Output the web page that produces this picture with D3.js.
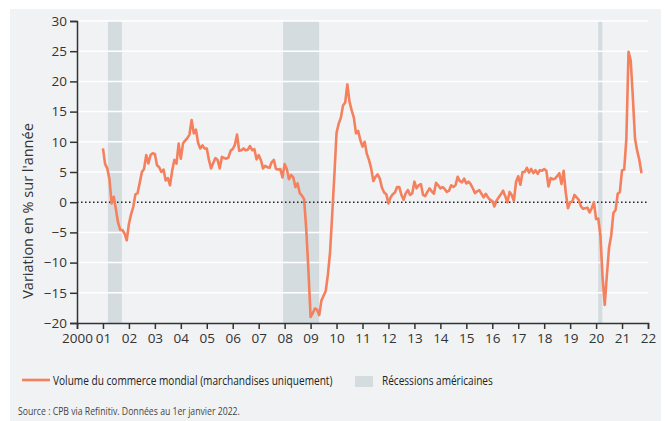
<!DOCTYPE html>
<html>
<head>
<meta charset="utf-8">
<script src="https://cdn.jsdelivr.net/npm/d3@7"></script>
<style>
  body { margin: 0; background: #fff; }
  svg { display: block; font-family: "Open Sans", sans-serif; }
</style>
</head>
<body>
<svg id="chart"></svg>
<script>
// Volume du commerce mondial, variation sur l'annee, mensuel depuis janv. 2001
const firstYear = 2001;
const volume = [
  8.9, 6.3, 5.6, 3.8, -0.2, 0.9, -1.2, -3.4, -4.6, -4.6, -5.2, -6.3,
  -3.6, -2.0, -0.8, 1.3, 1.5, 3.2, 5.0, 5.5, 7.8, 6.4, 7.8, 8.1,
  8.0, 6.1, 5.8, 5.0, 5.4, 3.6, 4.0, 2.8, 5.2, 7.0, 6.4, 9.7,
  7.2, 9.7, 10.2, 10.6, 11.2, 13.6, 11.4, 12.0, 9.8, 8.9, 9.4, 8.9,
  8.9, 7.0, 5.6, 6.5, 7.3, 7.0, 5.6, 7.5, 7.3, 7.2, 7.4, 8.5,
  8.8, 9.5, 11.2, 8.5, 8.6, 8.9, 8.6, 8.7, 9.3, 8.6, 8.8, 7.1,
  7.8, 7.0, 5.6, 6.0, 5.8, 5.7, 6.6, 7.0, 5.5, 5.4, 5.5, 4.1,
  6.3, 5.5, 3.8, 4.5, 4.1, 2.5, 3.1, 1.5, 1.1, 0.5, -4.5, -11.3,
  -19.0, -18.4, -17.6, -17.8, -18.7, -16.3, -15.5, -14.7, -12.0, -8.3, -2.0, 4.5,
  11.5, 13.0, 14.0, 16.0, 16.5, 19.5, 16.6, 15.2, 14.0, 11.4, 11.8, 10.3,
  9.2, 10.0, 8.0, 7.0, 5.6, 3.5, 4.2, 4.6, 3.9, 2.4, 1.6, 1.3,
  -0.2, 0.8, 1.3, 1.6, 2.5, 2.5, 1.2, 0.4, 1.5, 2.0, 1.2, 1.5,
  3.4, 2.3, 2.8, 3.0, 1.2, 1.0, 1.7, 2.3, 1.8, 1.4, 3.2, 2.8,
  2.3, 2.5, 2.2, 1.7, 1.9, 2.8, 2.5, 2.8, 4.2, 3.5, 3.3, 3.9,
  3.1, 3.4, 3.0, 2.3, 1.5, 1.8, 2.0, 1.4, 0.8, 1.4, 0.8, 0.4,
  0.2, -0.7, 0.3, 0.8, 1.3, 1.9, 1.0, 0.0, 1.7, 1.2, 0.2, 3.4,
  4.3, 2.9, 5.0, 5.0, 5.7, 4.9, 5.5, 4.8, 5.3, 4.7, 5.3, 5.2,
  5.5, 5.2, 2.6, 4.0, 3.8, 3.9, 4.3, 4.8, 3.0, 5.2, 1.5, -1.0,
  0.0, 0.1, 1.2, 0.8, 0.4, -0.7, -1.1, -1.0, -0.9, -1.7, -1.0, 0.0,
  -2.8, -2.7, -5.5, -12.5, -17.0, -12.0, -7.5, -5.5, -1.8, -1.3, 1.4, 1.7,
  5.3, 5.4, 10.5, 24.9, 23.5, 17.4, 10.5, 8.5, 7.0, 4.8
];
const recessions = [
  [2001.19, 2001.73],
  [2007.94, 2009.33],
  [2020.08, 2020.24]
];
const yTicks = [-20, -15, -10, -5, 0, 5, 10, 15, 20, 25, 30];
const xTicks = d3.range(2000, 2023);
const xTickLabels = ["2000", "01", "02", "03", "04", "05", "06", "07", "08", "09", "10",
  "11", "12", "13", "14", "15", "16", "17", "18", "19", "20", "21", "22"];
const lineLabel = "Volume du commerce mondial (marchandises uniquement)";
const recessionLabel = "Récessions américaines";
const yTitle = "Variation en % sur l'année";
const source = "Source : CPB via Refinitiv. Données au 1er janvier 2022.";

const W = 665, H = 421;
const lineColor = "#f4805e";
const recColor = "#d5dce0";

const svg = d3.select("#chart").attr("width", W).attr("height", H);

svg.append("rect")
  .attr("x", 10).attr("y", 9)
  .attr("width", 651).attr("height", H - 9)
  .attr("fill", "#f1f2f4");

const x = d3.scaleLinear().domain([2000, 2022]).range([77, 648]);
const y = d3.scaleLinear().domain([-20, 30]).range([323, 21]);

const points = volume.map((v, i) => ({ t: firstYear + i / 12, v: v }));

// recessions
svg.append("g")
  .selectAll("rect")
  .data(recessions)
  .enter()
  .append("rect")
  .attr("x", (d) => x(d[0]))
  .attr("width", (d) => x(d[1]) - x(d[0]))
  .attr("y", y(30))
  .attr("height", y(-20) - y(30))
  .attr("fill", recColor);

// grid
svg.append("g")
  .selectAll("line")
  .data(yTicks.filter((d) => d !== 0 && d !== -20))
  .enter()
  .append("line")
  .attr("x1", x(2000)).attr("x2", x(2022))
  .attr("y1", (d) => y(d)).attr("y2", (d) => y(d))
  .attr("stroke", "#fff")
  .attr("stroke-width", 1.5);

svg.append("line")
  .attr("x1", x(2000)).attr("x2", x(2022))
  .attr("y1", y(0)).attr("y2", y(0))
  .attr("stroke", "#222")
  .attr("stroke-width", 1.5)
  .attr("stroke-dasharray", "1.5,2.5");

// axes
const yAxis = svg.append("g")
  .attr("transform", "translate(" + x(2000) + ",0)")
  .call(d3.axisLeft(y).tickValues(yTicks).tickSize(7).tickPadding(3));

const xAxis = svg.append("g")
  .attr("transform", "translate(0," + y(-20) + ")")
  .call(d3.axisBottom(x).tickValues(xTicks).tickSize(6).tickPadding(4)
    .tickFormat((d, i) => xTickLabels[i]));

[yAxis, xAxis].forEach((g) => {
  g.select(".domain").attr("stroke", "#333").attr("stroke-width", 1.5);
  g.selectAll(".tick line").attr("stroke", "#333").attr("stroke-width", 1.5);
  g.selectAll(".tick text")
    .attr("fill", "#333")
    .style("font-size", "13.5px")
    .style("font-family", "Open Sans, sans-serif");
});

// line
const line = d3.line()
  .x((d) => x(d.t))
  .y((d) => y(d.v));

svg.append("path")
  .datum(points)
  .attr("d", line)
  .attr("fill", "none")
  .attr("stroke", lineColor)
  .attr("stroke-width", 2.6)
  .attr("stroke-linejoin", "round");

// y title
svg.append("text")
  .attr("transform", "translate(33,211) rotate(-90)")
  .attr("text-anchor", "middle")
  .attr("fill", "#333")
  .style("font-size", "14.5px")
  .text(yTitle);

// the original face is narrower than Open Sans: squeeze text to a given width
const fitText = (x0, y0, width, size, color, str) => {
  const t = svg.append("text")
    .attr("fill", color)
    .style("font-size", size + "px")
    .text(str);
  const k = Math.min(1, width / t.node().getComputedTextLength());
  t.attr("transform", "translate(" + x0 + "," + y0 + ") scale(" + k + ",1)");
  return t;
};

// legend
svg.append("line")
  .attr("x1", 22).attr("x2", 50)
  .attr("y1", 380).attr("y2", 380)
  .attr("stroke", lineColor)
  .attr("stroke-width", 2.6);

fitText(53, 384.5, 280, 13, "#222", lineLabel);

svg.append("rect")
  .attr("x", 355).attr("y", 376)
  .attr("width", 18).attr("height", 11)
  .attr("fill", recColor);

fitText(382, 384.5, 111, 13, "#222", recessionLabel);

fitText(18, 415, 222, 10, "#444", source);
</script>
</body>
</html>
